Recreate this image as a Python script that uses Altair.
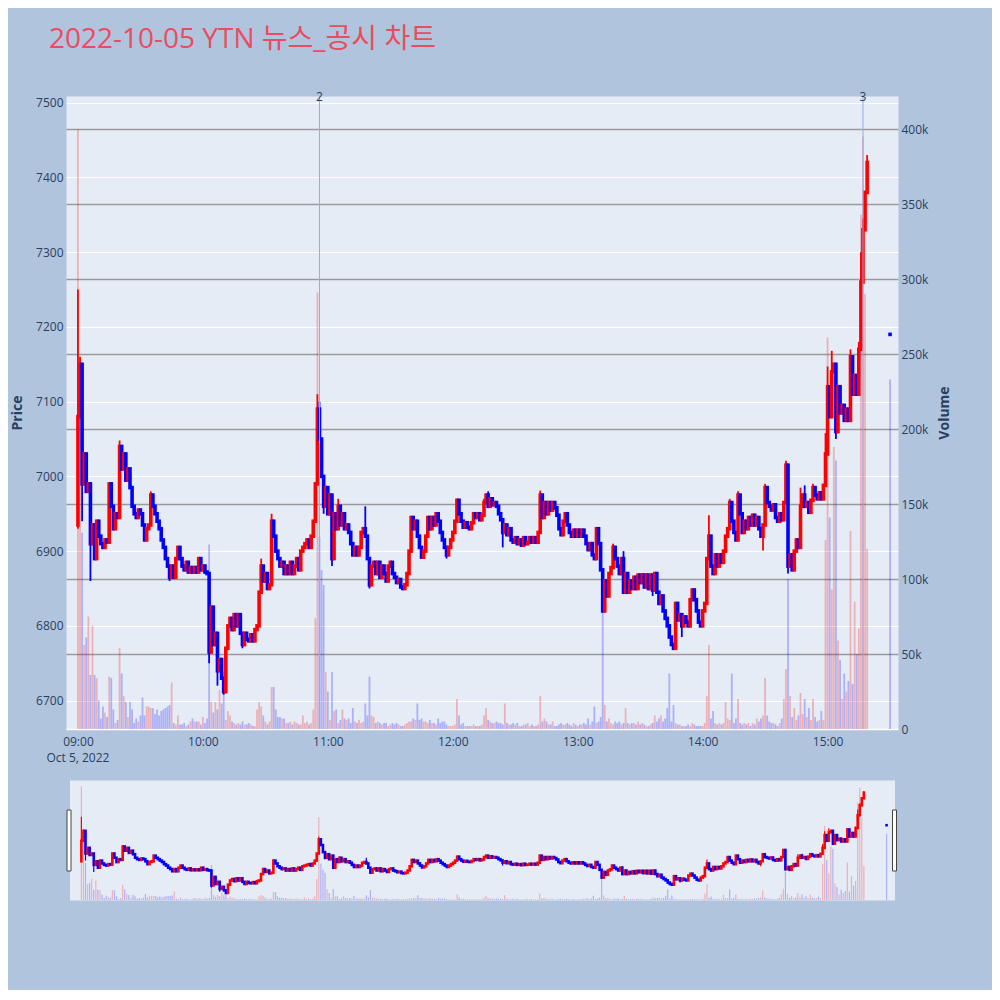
import altair as alt
import pandas as pd

TITLE = "2022-10-05 YTN 뉴스_공시 차트"
START = "2022-10-05 09:00"
DATE_LABEL = "Oct 5, 2022"

# per-minute closing prices 09:00 .. 15:19
closes = [
    7080, 7150, 6990, 7030, 6980, 6990, 6910, 6935, 6890, 6940,
    6920, 6910, 6905, 6915, 6912, 6990, 6960, 6930, 6950, 6945,
    7040, 7010, 7030, 6995, 7010, 6985, 6960, 6950, 6945, 6955,
    6950, 6935, 6915, 6930, 6935, 6975, 6960, 6950, 6940, 6930,
    6915, 6905, 6890, 6880, 6865, 6880, 6865, 6890, 6905, 6890,
    6880, 6875, 6885, 6872, 6878, 6872, 6878, 6872, 6890, 6875,
    6880, 6872, 6870, 6765, 6825, 6775, 6790, 6740, 6755, 6730,
    6712, 6770, 6800, 6810, 6795, 6815, 6800, 6815, 6790, 6775,
    6790, 6782, 6780, 6788, 6780, 6795, 6800, 6845, 6880, 6860,
    6870, 6850, 6855, 6940, 6920, 6900, 6890, 6880, 6885, 6870,
    6880, 6870, 6885, 6870, 6880, 6890, 6875, 6900, 6905, 6910,
    6915, 6905, 6920, 6940, 6990, 7090, 7050, 7000, 6960, 6985,
    6950, 6975, 6890, 6950, 6930, 6960, 6935, 6950, 6930, 6935,
    6925, 6910, 6895, 6905, 6895, 6905, 6925, 6930, 6920, 6890,
    6855, 6880, 6885, 6870, 6885, 6865, 6880, 6870, 6860, 6880,
    6885, 6870, 6865, 6858, 6862, 6852, 6850, 6855, 6870, 6900,
    6945, 6930, 6940, 6920, 6905, 6892, 6900, 6920, 6945, 6930,
    6945, 6935, 6950, 6940, 6925, 6915, 6905, 6895, 6905, 6915,
    6925, 6940, 6968, 6950, 6940, 6932, 6938, 6932, 6930, 6938,
    6950, 6945, 6950, 6942, 6948, 6965, 6975, 6960, 6970, 6962,
    6965, 6960, 6950, 6942, 6925, 6935, 6922, 6930, 6915, 6912,
    6918, 6910, 6915, 6908, 6918, 6910, 6912, 6918, 6912, 6918,
    6912, 6925, 6975, 6945, 6965, 6950, 6965, 6955, 6965, 6958,
    6948, 6930, 6922, 6940, 6950, 6935, 6925, 6920, 6928, 6920,
    6928, 6920, 6928, 6920, 6910, 6902, 6910, 6895, 6890, 6930,
    6910, 6875, 6820, 6860, 6840, 6870, 6878, 6905, 6890, 6880,
    6870, 6890, 6845, 6870, 6845, 6860, 6850, 6865, 6850, 6868,
    6858, 6868, 6852, 6868, 6850, 6868, 6848, 6870, 6845, 6830,
    6840, 6820, 6810, 6800, 6785, 6775, 6770, 6830, 6808, 6815,
    6800, 6812, 6805, 6800, 6835, 6848, 6835, 6820, 6805, 6800,
    6820, 6830, 6890, 6920, 6880, 6870, 6895, 6880, 6895, 6885,
    6900, 6920, 6930, 6965, 6940, 6925, 6915, 6975, 6950, 6925,
    6940, 6930, 6945, 6935, 6948, 6935, 6945, 6930, 6920, 6935,
    6985, 6965, 6960, 6955, 6962, 6945, 6940, 6950, 6942, 6965,
    7015, 6880, 6895, 6875, 6900, 6915, 6905, 6960, 6975, 6960,
    6965, 6952, 6968, 6985, 6975, 6970, 6978, 6970, 6988, 7030,
    7120, 7080, 7140, 7150, 7060, 7120, 7085, 7095, 7075, 7090,
    7075, 7160, 7110, 7135, 7110, 7170, 7260, 7330, 7380, 7420,
]

# per-minute volume in thousands of shares
volumes_k = [
    400, 240, 131, 56, 61, 75, 36, 69, 36, 34,
    19, 7, 15, 11, 8, 35, 34, 13, 4, 6,
    54, 37, 22, 18, 8, 18, 13, 4, 7, 5,
    9, 21, 9, 15, 15, 14, 14, 10, 13, 9,
    12, 13, 14, 15, 16, 31, 4, 3, 9, 3,
    3, 4, 2, 3, 5, 7, 5, 5, 5, 3,
    8, 4, 7, 123, 18, 11, 18, 13, 26, 17,
    38, 6, 12, 9, 5, 4, 3, 4, 3, 5,
    3, 3, 4, 3, 2, 2, 13, 18, 15, 9,
    5, 3, 5, 28, 28, 13, 8, 8, 7, 7,
    4, 4, 5, 3, 5, 4, 3, 3, 9, 4,
    5, 3, 4, 13, 74, 291, 128, 106, 96, 38,
    25, 6, 38, 12, 13, 4, 6, 13, 7, 6,
    7, 4, 14, 5, 4, 6, 4, 5, 17, 9,
    35, 9, 8, 4, 5, 4, 3, 4, 4, 2,
    3, 4, 3, 4, 3, 2, 2, 3, 4, 5,
    5, 7, 6, 17, 6, 7, 5, 5, 4, 6,
    4, 4, 3, 7, 4, 5, 5, 3, 2, 2,
    2, 3, 20, 9, 3, 4, 2, 2, 2, 2,
    3, 2, 2, 2, 3, 9, 14, 6, 5, 4,
    4, 5, 4, 4, 3, 17, 4, 3, 3, 4,
    3, 4, 2, 2, 3, 3, 4, 2, 3, 2,
    2, 3, 22, 5, 7, 5, 3, 3, 5, 2,
    2, 3, 4, 3, 3, 4, 3, 2, 4, 3,
    2, 3, 3, 4, 3, 7, 3, 5, 15, 4,
    5, 8, 78, 16, 5, 7, 4, 3, 5, 4,
    5, 3, 4, 14, 4, 3, 4, 4, 3, 5,
    3, 4, 3, 2, 2, 3, 4, 9, 5, 7,
    9, 5, 7, 14, 37, 5, 16, 4, 3, 3,
    2, 2, 2, 3, 2, 4, 3, 2, 2, 2,
    2, 4, 22, 56, 7, 12, 4, 3, 4, 3,
    4, 18, 7, 6, 37, 4, 7, 20, 4, 3,
    4, 3, 4, 2, 4, 3, 7, 5, 7, 9,
    34, 9, 5, 4, 4, 3, 2, 4, 7, 20,
    40, 100, 22, 8, 14, 6, 9, 24, 10, 20,
    8, 14, 6, 20, 8, 5, 6, 12, 6, 126,
    261, 141, 93, 188, 179, 59, 46, 20, 37, 25,
    32, 132, 30, 85, 50, 67, 343, 395, 290, 120,
]

first_open = 6935
# wick extremes (minute index -> price)
high_marks = {0: 7250, 1: 7160, 20: 7048, 35: 6980, 88: 6890, 93: 6950, 115: 7110,
              116: 7100, 125: 6970, 138: 6960, 182: 6970, 195: 6970, 197: 6980,
              222: 6981, 257: 6910, 262: 6900, 303: 6948, 313: 6970, 317: 6980,
              330: 6990, 340: 7021, 347: 6985, 349: 6988, 353: 6990, 359: 7058,
              360: 7147, 362: 7168, 371: 7170, 375: 7180, 376: 7300, 377: 7345,
              379: 7430}
low_marks = {0: 6930, 2: 6940, 6: 6860, 44: 6860, 63: 6750, 67: 6720, 70: 6708,
             79: 6770, 118: 6950, 122: 6880, 140: 6850, 177: 6890, 204: 6905,
             252: 6818, 276: 6840, 286: 6768, 290: 6785, 329: 6901, 341: 6870,
             364: 7050}

auction_time = "2022-10-05T15:30:00"
auction_price = 7190
auction_volume_k = 233

event_times = ["2022-10-05T10:56:00", "2022-10-05T15:17:00"]
event_labels = ["2", "3"]

price_ticks = [6700, 6800, 6900, 7000, 7100, 7200, 7300, 7400, 7500]
volume_ticks = [0, 50000, 100000, 150000, 200000, 250000, 300000, 350000, 400000]
hour_ticks = [9, 10, 11, 12, 13, 14, 15]

# ---------------------------------------------------------------- table
times = pd.date_range(START, periods=len(closes), freq="min")
rows = []
prev = first_open
for i, (t, c, v) in enumerate(zip(times, closes, volumes_k)):
    o = prev
    h = max(o, c, high_marks.get(i, c))
    lo = min(o, c, low_marks.get(i, c))
    rows.append(dict(t=t.strftime("%Y-%m-%dT%H:%M:%S"), open=o, close=c, high=h,
                     low=lo, volume=v * 1000, dir="up" if c > o else "down"))
    prev = c
rows.append(dict(t=auction_time, open=auction_price, close=auction_price,
                 high=auction_price, low=auction_price,
                 volume=auction_volume_k * 1000, dir="down"))
df = pd.DataFrame(rows)
ev = pd.DataFrame({"t": event_times, "label": event_labels})
date_df = pd.DataFrame({"t": [times[0].strftime("%Y-%m-%dT%H:%M:%S")], "label": [DATE_LABEL]})
one = pd.DataFrame({"a": [0]})

# ---------------------------------------------------------------- style
W, H = 832, 633
MW, MH = 825, 120
FONT = "Open Sans"
TXT = "#2a3f5f"
PLOT_BG = "#E5ECF6"
PAGE_BG = "#B0C4DE"


def dt(h, m=0, s=0):
    return alt.DateTime(year=2022, month=10, date=5, hours=h, minutes=m, seconds=s)


x_dom = [dt(8, 56, 40), dt(15, 31, 25)]
xaxis = alt.Axis(values=[dt(h) for h in hour_ticks], format="%H:%M", grid=False,
                 ticks=False, domain=False, labelPadding=7, labelFontSize=12,
                 labelColor=TXT, labelFont=FONT, title=None)
X = alt.X("t:T", scale=alt.Scale(domain=x_dom), axis=xaxis)
XM = alt.X("t:T", scale=alt.Scale(domain=x_dom), axis=None)
color = alt.Color("dir:N", scale=alt.Scale(domain=["up", "down"], range=["#FF0000", "#0000FF"]),
                  legend=None)

price_scale = alt.Scale(domain=[6662, 7509], nice=False, zero=False)
vol_scale = alt.Scale(domain=[0, 422000], nice=False)
price_axis = alt.Axis(orient="left", values=price_ticks, format="d", title="Price", grid=True,
                      gridColor="white", gridWidth=1, domain=False, ticks=False,
                      labelPadding=3, labelFontSize=12, labelColor=TXT, labelFont=FONT,
                      titleFont=FONT, titleFontSize=14, titleFontWeight="bold",
                      titleColor=TXT, titlePadding=11)
vol_axis = alt.Axis(orient="right", values=volume_ticks, title="Volume",
                    labelExpr="datum.value === 0 ? '0' : format(datum.value / 1000, 'd') + 'k'",
                    grid=True,
                    gridColor={"condition": {"test": "datum.value === 0", "value": "white"},
                               "value": "#9a9a9a"},
                    gridWidth=1.5, domain=False, ticks=False, labelPadding=3,
                    labelFontSize=12, labelColor=TXT, labelFont=FONT, titleFont=FONT,
                    titleFontSize=14, titleFontWeight="bold", titleColor=TXT,
                    titleAngle=270, titlePadding=24)

# ---------------------------------------------------------------- main panel
base = alt.Chart(df)
vol = base.mark_bar(width=1.8, opacity=0.25).encode(
    x=X, y=alt.Y("volume:Q", scale=vol_scale, axis=vol_axis), color=color)
wick = base.mark_rule(strokeWidth=1.8).encode(
    x=X, y=alt.Y("low:Q", scale=price_scale, axis=price_axis), y2="high:Q", color=color)
body = base.mark_rule(strokeWidth=3.6, strokeCap="square").encode(
    x=X, y=alt.Y("open:Q", scale=price_scale, axis=price_axis), y2="close:Q", color=color)
ev_rule = alt.Chart(ev).mark_rule(color="#9AA8E6", strokeWidth=1).encode(x=X)
ev_text = alt.Chart(ev).mark_text(baseline="middle", fontSize=12, font=FONT, color=TXT).encode(
    x=X, y=alt.value(1), text="label:N")
date_text = alt.Chart(date_df).mark_text(baseline="middle", fontSize=12, font=FONT,
                                         color=TXT).encode(x=X, y=alt.value(H + 29), text="label:N")
title_text = alt.Chart(one).mark_text(text=TITLE, align="left", baseline="middle", fontSize=28,
                                      font="Open Sans, Noto Sans CJK KR",
                                      color="#EA4C61").encode(x=alt.value(-17), y=alt.value(-56))

price_layer = alt.layer(wick, body, ev_rule, ev_text, date_text, title_text)
main = alt.layer(vol, price_layer).resolve_scale(y="independent").properties(width=W, height=H)

# ---------------------------------------------------------------- range slider
mvol = base.mark_bar(width=1.2, opacity=0.25).encode(
    x=XM, y=alt.Y("volume:Q", scale=vol_scale, axis=None), color=color)
mwick = base.mark_rule(strokeWidth=1.2).encode(
    x=XM, y=alt.Y("low:Q", scale=price_scale, axis=None), y2="high:Q", color=color)
mbody = base.mark_rule(strokeWidth=2.6, strokeCap="square").encode(
    x=XM, y=alt.Y("open:Q", scale=price_scale, axis=None), y2="close:Q", color=color)
hl = alt.Chart(one).mark_rect(fill="white", stroke="#444444", strokeWidth=1).encode(
    x=alt.value(-2.5), x2=alt.value(1.5), y=alt.value(30), y2=alt.value(91))
hr = alt.Chart(one).mark_rect(fill="white", stroke="#444444", strokeWidth=1).encode(
    x=alt.value(MW - 2), x2=alt.value(MW + 2), y=alt.value(30), y2=alt.value(91))
mini = alt.layer(mvol, alt.layer(mwick, mbody), hl, hr).resolve_scale(
    y="independent").properties(width=MW, height=MH)

chart = alt.vconcat(main, mini, spacing=51, bounds="flush", center=True).properties(
    background=PAGE_BG,
    padding={"left": 2, "top": 17, "right": 39, "bottom": 89},
).configure_view(stroke="transparent", fill=PLOT_BG)

chart.save("out.html", embed_options={"renderer": "svg", "actions": False})
